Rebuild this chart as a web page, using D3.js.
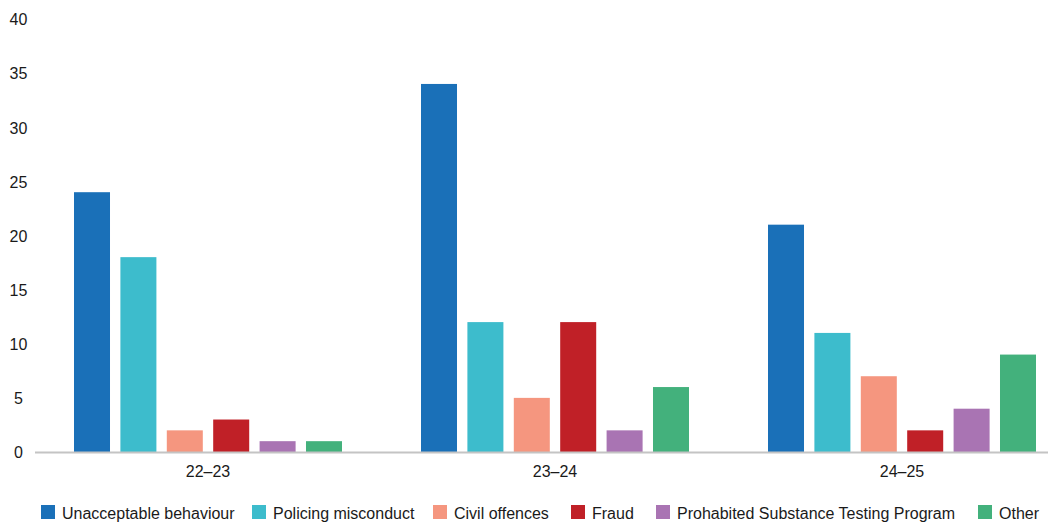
<!DOCTYPE html>
<html>
<head>
<meta charset="utf-8">
<script src="https://cdn.jsdelivr.net/npm/d3@7"></script>
<style>
  html, body { margin: 0; padding: 0; background: #fff; }
  svg { display: block; font-family: "Liberation Sans", Arial, sans-serif; }
</style>
</head>
<body>
<svg id="chart" width="1050" height="523"></svg>
<script>
// Financial years shown on the x axis
const years = ["22–23", "23–24", "24–25"];

// Matter categories (legend order)
const categories = [
  "Unacceptable behaviour",
  "Policing misconduct",
  "Civil offences",
  "Fraud",
  "Prohabited Substance Testing Program",
  "Other"
];

// Counts per category, one value per year
const unacceptableBehaviour = [24, 34, 21];
const policingMisconduct   = [18, 12, 11];
const civilOffences        = [2, 5, 7];
const fraud                = [3, 12, 2];
const substanceTesting     = [1, 2, 4];
const other                = [1, 6, 9];

const yTicks = [0, 5, 10, 15, 20, 25, 30, 35, 40];

const colors = ["#1a70b8", "#3dbccc", "#f5967f", "#c02027", "#a974b3", "#43b17c"];

const seriesValues = [
  unacceptableBehaviour, policingMisconduct, civilOffences,
  fraud, substanceTesting, other
];

const svg = d3.select("#chart");

const baseY = 452;
const topY = 19;

const y = d3.scaleLinear().domain([0, 40]).range([baseY, topY]);

const x0 = d3.scaleBand().domain(years).range([34.5, 1075.5]).paddingInner(0).paddingOuter(0);
const groupPad = 39.5;
const x1 = d3.scaleBand()
  .domain(categories)
  .range([groupPad, x0.bandwidth() - groupPad])
  .paddingInner(0.224)
  .paddingOuter(0);

// Bars
const groups = svg.append("g").selectAll("g")
  .data(years)
  .join("g")
  .attr("transform", d => `translate(${x0(d)},0)`);

groups.selectAll("rect")
  .data((yr, i) => categories.map((c, k) => ({ cat: c, value: seriesValues[k][i], color: colors[k] })))
  .join("rect")
  .attr("x", d => x1(d.cat))
  .attr("width", x1.bandwidth())
  .attr("y", d => y(d.value))
  .attr("height", d => baseY - y(d.value))
  .attr("fill", d => d.color);

// Baseline
svg.append("line")
  .attr("x1", 35).attr("x2", 1048)
  .attr("y1", baseY + 0.5).attr("y2", baseY + 0.5)
  .attr("stroke", "#c4c4c4").attr("stroke-width", 2);

// Y axis tick labels
const yAxis = d3.axisLeft(y).tickValues(yTicks).tickSize(0).tickPadding(0);
const gy = svg.append("g").attr("transform", "translate(18.5,0)").call(yAxis);
gy.select(".domain").remove();
gy.selectAll("text")
  .attr("text-anchor", "middle")
  .attr("dy", "0.36em")
  .attr("font-size", 16)
  .attr("font-family", "Liberation Sans, Arial, sans-serif")
  .attr("fill", "#1a1a1a");

// X axis labels
const xAxis = d3.axisBottom(x0).tickSize(0).tickPadding(0);
const gx = svg.append("g").attr("transform", `translate(0,${baseY})`).call(xAxis);
gx.select(".domain").remove();
gx.selectAll("text")
  .attr("y", 25)
  .attr("dy", 0)
  .attr("font-size", 16)
  .attr("font-family", "Liberation Sans, Arial, sans-serif")
  .attr("fill", "#1a1a1a");

// Legend
const legendX = [41, 252, 433, 571, 656, 978];
const legend = svg.append("g");
const items = legend.selectAll("g")
  .data(categories)
  .join("g")
  .attr("transform", (d, i) => `translate(${legendX[i]},505)`);
items.append("rect")
  .attr("width", 14).attr("height", 14)
  .attr("fill", (d, i) => colors[i]);
items.append("text")
  .attr("x", 21).attr("y", 14)
  .attr("font-size", 16)
  .attr("fill", "#1a1a1a")
  .text(d => d);
</script>
</body>
</html>
